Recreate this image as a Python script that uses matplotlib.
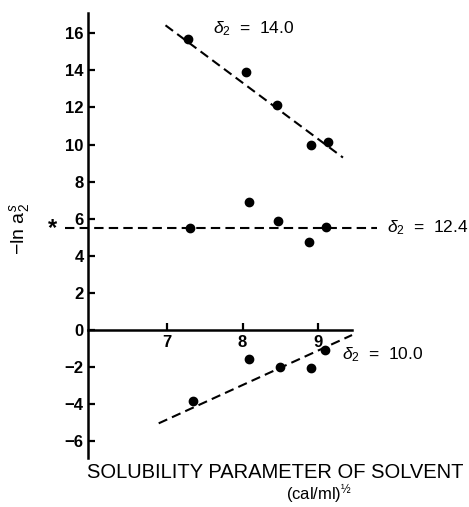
import matplotlib
matplotlib.use("Agg")
import matplotlib.pyplot as plt
import numpy as np

plt.rcParams['font.family'] = ['Liberation Sans', 'DejaVu Sans']
plt.rcParams['mathtext.fontset'] = 'custom'
plt.rcParams['mathtext.rm'] = 'Liberation Sans'
plt.rcParams['mathtext.it'] = 'Liberation Sans:italic'
plt.rcParams['mathtext.bf'] = 'Liberation Sans:bold'

# data
x_140 = [7.28, 8.05, 8.45, 8.91, 9.13]
y_140 = [15.68, 13.9, 12.12, 9.97, 10.15]
fit_140_x = [6.98, 9.33]
fit_140_y = [16.43, 9.30]

x_124 = [7.31, 8.08, 8.47, 8.88, 9.11]
y_124 = [5.51, 6.88, 5.89, 4.76, 5.57]
fit_124_x = [5.65, 9.78]
fit_124_y = [5.5, 5.5]

x_100 = [7.34, 8.09, 8.50, 8.91, 9.09]
y_100 = [-3.81, -1.56, -1.98, -2.07, -1.08]
fit_100_x = [6.89, 9.45]
fit_100_y = [-5.03, -0.27]

labels = [r'$\delta_2$ = 14.0', r'$\delta_2$ = 12.4', r'$\delta_2$ = 10.0']
yticks = [-6, -4, -2, 0, 2, 4, 6, 8, 10, 12, 14, 16]
xticks = [7, 8, 9]

fig = plt.figure(figsize=(4.69, 5.07), dpi=100)
ax = fig.add_axes([0.187, 0.0966, 0.5636, 0.878])
ax.set_xlim(5.95, 9.45)
ax.set_ylim(-6.9, 17.1)

for s in ['top', 'right']:
    ax.spines[s].set_visible(False)
ax.spines['bottom'].set_position(('data', 0))
ax.spines['left'].set_linewidth(1.8)
ax.spines['bottom'].set_linewidth(1.8)

ax.set_xticks(xticks)
ax.set_yticks(yticks)
ax.set_yticklabels([str(t).replace('-', '\u2212') for t in yticks])
ax.tick_params(axis='both', direction='in', length=5, width=1.6,
               labelsize=12)
ax.tick_params(axis='y', pad=3)
for lab in ax.get_xticklabels() + ax.get_yticklabels():
    lab.set_fontweight('bold')

dash = dict(color='black', lw=1.5, linestyle=(0, (4.5, 2.5)), clip_on=False)
ax.plot(fit_140_x, fit_140_y, **dash)
ax.plot(fit_124_x, fit_124_y, **dash)
ax.plot(fit_100_x, fit_100_y, **dash)

mk = dict(marker='o', color='black', ms=6, linestyle='none', clip_on=False)
ax.plot(x_140, y_140, **mk)
ax.plot(x_124, y_124, **mk)
ax.plot(x_100, y_100, **mk)

tk = dict(fontsize=12.5, va='center', ha='left', clip_on=False)
ax.text(7.61, 16.27, labels[0].replace('=', ' = '), **tk)
ax.text(9.91, 5.5, labels[1].replace('=', ' = '), **tk)
ax.text(9.32, -1.35, labels[2].replace('=', ' = '), **tk)
ax.text(5.48, 5.5, '*', fontsize=17, fontweight='bold', va='center', ha='center', clip_on=False)

fig.text(19 / 469, 1 - 229 / 507, r'$-$ln a$_2^s$', rotation=90,
         fontsize=14, ha='center', va='center')
fig.text(275 / 469, 1 - 473 / 507, 'SOLUBILITY PARAMETER OF SOLVENT',
         fontsize=14.5, ha='center', va='center')
fig.text(319 / 469, 1 - 506 / 507, '(cal/ml)$^{\u00bd}$',
         fontsize=12, ha='center', va='bottom')

fig.savefig('out.png', dpi=100)
